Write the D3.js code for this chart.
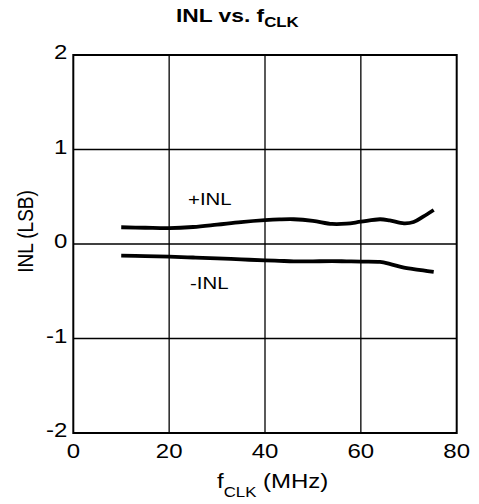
<!DOCTYPE html>
<html><head><meta charset="utf-8">
<script src="https://cdn.jsdelivr.net/npm/d3@7"></script>
<style>body{margin:0;background:#fff}svg{display:block}text{font-family:"Liberation Sans",Arial,sans-serif;fill:#000}</style>
</head><body><svg id="c" width="479" height="504"></svg>
<script>
const freqMHz = [10, 15, 20, 25, 30, 35, 40, 43, 46, 50, 54, 57, 60, 64, 66, 69, 71, 73, 75.2];
const posINL = [0.177, 0.172, 0.168, 0.18, 0.205, 0.232, 0.252, 0.26, 0.262, 0.245, 0.212, 0.215, 0.236, 0.262, 0.25, 0.218, 0.232, 0.29, 0.36];
const negINL = [-0.123, -0.128, -0.134, -0.143, -0.152, -0.163, -0.173, -0.178, -0.183, -0.183, -0.182, -0.183, -0.186, -0.19, -0.21, -0.25, -0.265, -0.28, -0.295];
const xTicks = [0, 20, 40, 60, 80];
const yTicks = [-2, -1, 0, 1, 2];

const svg = d3.select("#c");
const m = {l: 73.3, r: 22.3, t: 55, b: 71};
const W = 479, H = 504;
const SX = 1.2; // horizontal text stretch seen in the reference
const x = d3.scaleLinear().domain([0, 80]).range([m.l, W - m.r]);
const y = d3.scaleLinear().domain([-2, 2]).range([H - m.b, m.t]);
const tr = (px, py, rot) => `translate(${px},${py}) scale(${SX},1)` + (rot ? ` rotate(${rot})` : "");

// grid
svg.append("g").selectAll("line").data(xTicks.slice(1, -1)).join("line")
  .attr("x1", d => x(d)).attr("x2", d => x(d)).attr("y1", y(2)).attr("y2", y(-2))
  .attr("stroke", "#000").attr("stroke-width", 1.3);
svg.append("g").selectAll("line").data(yTicks.slice(1, -1)).join("line")
  .attr("y1", d => y(d)).attr("y2", d => y(d)).attr("x1", x(0)).attr("x2", x(80))
  .attr("stroke", "#000").attr("stroke-width", 1.3);
svg.append("rect").attr("x", x(0)).attr("y", y(2)).attr("width", x(80) - x(0)).attr("height", y(-2) - y(2))
  .attr("fill", "none").attr("stroke", "#000").attr("stroke-width", 2);

// tick labels
svg.append("g").selectAll("text").data(xTicks).join("text")
  .attr("transform", d => tr(x(d), y(-2) + 25)).attr("text-anchor", "middle")
  .attr("font-size", 20).text(d => d);
svg.append("g").selectAll("text").data(yTicks).join("text")
  .attr("transform", d => tr(x(0) - 6, y(d) + 4)).attr("text-anchor", "end")
  .attr("font-size", 20).text(d => d);

// lines
const line = d3.line().x(d => x(d[0])).y(d => y(d[1])).curve(d3.curveCatmullRom.alpha(0.5));
[posINL, negINL].forEach(s => {
  svg.append("path").datum(freqMHz.map((f, i) => [f, s[i]]))
    .attr("d", line).attr("fill", "none").attr("stroke", "#000")
    .attr("stroke-width", 3.8).attr("stroke-linecap", "butt");
});

// series labels
svg.append("text").attr("transform", tr(188, 205)).attr("font-size", 17).text("+INL");
svg.append("text").attr("transform", tr(190, 289)).attr("font-size", 17).text("-INL");

// title
const t = svg.append("text").attr("transform", tr(176, 22)).attr("font-size", 19).attr("font-weight", "bold");
t.append("tspan").text("INL vs. f");
t.append("tspan").attr("font-size", 14).attr("dy", 5).text("CLK");

// x label
const xl = svg.append("text").attr("transform", tr(217, 488)).attr("font-size", 20);
xl.append("tspan").text("f");
xl.append("tspan").attr("font-size", 14).attr("dy", 9).text("CLK");
xl.append("tspan").attr("dy", -9).text(" (MHz)");

// y label
svg.append("text").attr("transform", tr(33, 231.5, -90)).attr("text-anchor", "middle")
  .attr("font-size", 19).text("INL (LSB)");
</script></body></html>
